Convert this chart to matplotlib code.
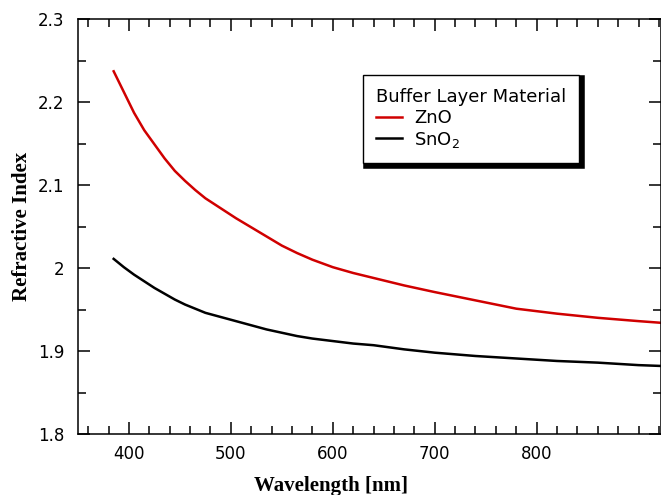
import matplotlib
matplotlib.use("Agg")
import matplotlib.pyplot as plt
from matplotlib.ticker import MultipleLocator

# wavelength [nm] and refractive index
wl = [385, 395, 405, 415, 425, 435, 445, 455, 465, 475, 490, 505, 520,
      535, 550, 565, 580, 600, 620, 640, 670, 700, 740, 780, 820, 860,
      900, 922]
n_zno = [2.237, 2.212, 2.187, 2.166, 2.149, 2.132, 2.117, 2.105, 2.094,
         2.084, 2.072, 2.060, 2.049, 2.038, 2.027, 2.018, 2.010, 2.001,
         1.994, 1.988, 1.979, 1.971, 1.961, 1.951, 1.945, 1.940, 1.936,
         1.934]
n_sno2 = [2.011, 2.001, 1.992, 1.984, 1.976, 1.969, 1.962, 1.956, 1.951,
          1.946, 1.941, 1.936, 1.931, 1.926, 1.922, 1.918, 1.915, 1.912,
          1.909, 1.907, 1.902, 1.898, 1.894, 1.891, 1.888, 1.886, 1.883,
          1.882]

fig = plt.figure(figsize=(6.61, 4.95), dpi=100)
ax = fig.add_axes([0.118, 0.1232, 0.882, 0.8384])

ax.plot(wl, n_zno, color='#d00000', lw=1.8, label='ZnO')
ax.plot(wl, n_sno2, color='black', lw=1.8, label='SnO$_2$')

ax.set_xlim(350, 922)
ax.set_ylim(1.8, 2.3)
ax.xaxis.set_major_locator(MultipleLocator(100))
ax.xaxis.set_minor_locator(MultipleLocator(20))
ax.yaxis.set_major_locator(MultipleLocator(0.1))
ax.yaxis.set_minor_locator(MultipleLocator(0.05))
ax.set_yticks([1.8, 1.9, 2.0, 2.1, 2.2, 2.3])
ax.set_yticklabels(['1.8', '1.9', '2', '2.1', '2.2', '2.3'])
ax.set_xticks([400, 500, 600, 700, 800])

ax.tick_params(which='both', direction='in', top=True, right=True, width=1.1)
ax.tick_params(which='major', length=8.5, labelsize=12, pad=8)
ax.tick_params(which='minor', length=6)
ax.tick_params(axis='y', which='major', pad=10)
for lab in ax.get_xticklabels() + ax.get_yticklabels():
    lab.set_fontfamily('DejaVu Sans')
for s in ax.spines.values():
    s.set_linewidth(1.1)

ax.set_xlabel('Wavelength [nm]', fontfamily='Liberation Serif', fontweight='bold', fontsize=15)
ax.set_ylabel('Refractive Index', fontfamily='Liberation Serif', fontweight='bold', fontsize=15)
ax.xaxis.set_label_coords(0.434, -0.100)
ax.yaxis.set_label_coords(-0.079, 0.5)

leg = ax.legend(title='Buffer Layer Material', loc='upper left',
                bbox_to_anchor=(0.489, 0.865), borderaxespad=0,
                fontsize=13, title_fontsize=13, alignment='left',
                fancybox=False, edgecolor='black', framealpha=1,
                handlelength=1.45, handletextpad=0.65, labelspacing=0.16,
                borderpad=0.72,
                shadow={'facecolor': 'black', 'edgecolor': 'black',
                        'alpha': 1, 'linewidth': 4})
leg.get_frame().set_linewidth(1.0)

fig.savefig('out.png', dpi=100)
